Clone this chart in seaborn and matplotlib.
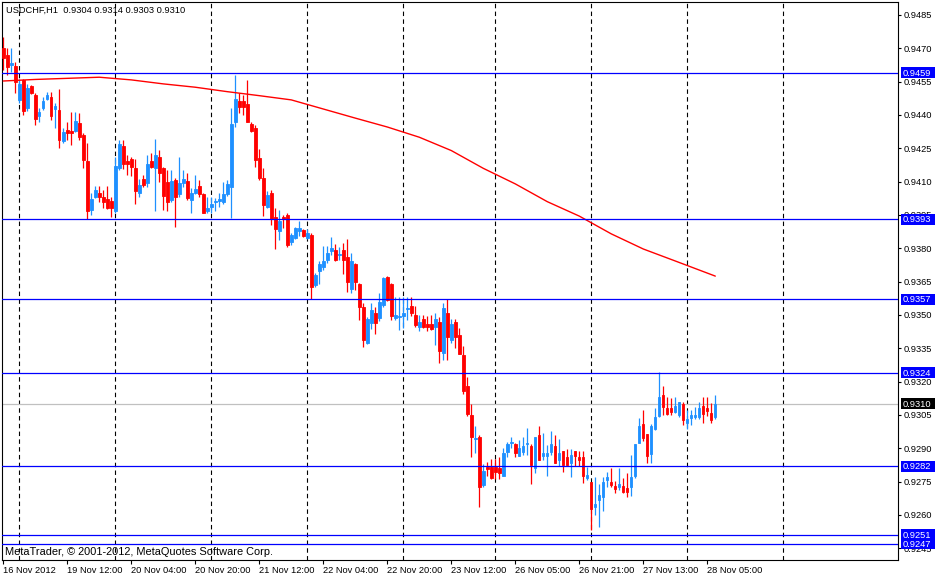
import numpy as np
import pandas as pd
import matplotlib
matplotlib.use("Agg")
import matplotlib.pyplot as plt
from matplotlib.patches import Rectangle
import seaborn as sns

sns.set_theme(style="white")
plt.rcParams["font.family"] = ["Liberation Sans", "DejaVu Sans"]

title_text = "USDCHF,H1  0.9304 0.9314 0.9303 0.9310"
copyright_text = "MetaTrader, \u00a9 2001-2012, MetaQuotes Software Corp."

open_ = [0.94700, 0.94670, 0.94625, 0.94620, 0.94468, 0.94558, 0.94430, 0.94530, 0.94490, 0.94395,
         0.94430, 0.94470, 0.94483, 0.94425, 0.94423, 0.94283, 0.94333, 0.94330, 0.94328, 0.94363,
         0.94310, 0.94193, 0.93973, 0.94030, 0.94050, 0.94030, 0.94020, 0.94013, 0.93970, 0.94160,
         0.94260, 0.94193, 0.94200, 0.94160, 0.94048, 0.94110, 0.94095, 0.94193, 0.94160, 0.94213,
         0.94160, 0.94100, 0.94018, 0.94108, 0.94045, 0.94095, 0.94103, 0.94018, 0.94048, 0.94080,
         0.94043, 0.93968, 0.93988, 0.94010, 0.94013, 0.94010, 0.94045, 0.94078, 0.94370, 0.94465,
         0.94465, 0.94450, 0.94360, 0.94343, 0.94205, 0.94115, 0.93988, 0.94048, 0.93940, 0.93880,
         0.93940, 0.93950, 0.93830, 0.93848, 0.93880, 0.93883, 0.93848, 0.93860, 0.93635, 0.93700,
         0.93718, 0.93748, 0.93788, 0.93793, 0.93770, 0.93793, 0.93763, 0.93617, 0.93730, 0.93640,
         0.93535, 0.93373, 0.93465, 0.93510, 0.93488, 0.93545, 0.93670, 0.93640, 0.93485, 0.93493,
         0.93496, 0.93526, 0.93540, 0.93500, 0.93448, 0.93480, 0.93460, 0.93460, 0.93448, 0.93470,
         0.93328, 0.93508, 0.93388, 0.93470, 0.93410, 0.93320, 0.93180, 0.93050, 0.92942, 0.92953,
         0.92735, 0.92818, 0.92818, 0.92815, 0.92810, 0.92775, 0.92885, 0.92924, 0.92920, 0.92867,
         0.92885, 0.92920, 0.92912, 0.92810, 0.92960, 0.92866, 0.92866, 0.92885, 0.92910, 0.92848,
         0.92890, 0.92863, 0.92836, 0.92890, 0.92860, 0.92860, 0.92768, 0.92750, 0.92638, 0.92668,
         0.92680, 0.92758, 0.92750, 0.92730, 0.92725, 0.92730, 0.92723, 0.92728, 0.92776, 0.92926,
         0.93010, 0.92965, 0.92875, 0.92987, 0.93046, 0.93140, 0.93080, 0.93083, 0.93065, 0.93050,
         0.93100, 0.93013, 0.93038, 0.93040, 0.93040, 0.93090, 0.93080, 0.93060, 0.93040]
high = [0.94753, 0.94700, 0.94700, 0.94640, 0.94560, 0.94560, 0.94540, 0.94535, 0.94498, 0.94430,
        0.94483, 0.94505, 0.94505, 0.94453, 0.94515, 0.94340, 0.94370, 0.94415, 0.94415, 0.94408,
        0.94318, 0.94273, 0.94050, 0.94080, 0.94080, 0.94063, 0.94080, 0.94033, 0.94213, 0.94288,
        0.94288, 0.94220, 0.94213, 0.94200, 0.94110, 0.94130, 0.94220, 0.94228, 0.94290, 0.94243,
        0.94168, 0.94153, 0.94153, 0.94115, 0.94213, 0.94153, 0.94138, 0.94070, 0.94130, 0.94108,
        0.94050, 0.94033, 0.94033, 0.94025, 0.94048, 0.94100, 0.94108, 0.94430, 0.94580, 0.94498,
        0.94490, 0.94558, 0.94370, 0.94355, 0.94245, 0.94160, 0.94060, 0.94063, 0.93980, 0.93973,
        0.93950, 0.93960, 0.93870, 0.93898, 0.93923, 0.93885, 0.93885, 0.93868, 0.93690, 0.93745,
        0.93810, 0.93810, 0.93853, 0.93820, 0.93808, 0.93823, 0.93840, 0.93780, 0.93735, 0.93645,
        0.93555, 0.93490, 0.93555, 0.93538, 0.93600, 0.93673, 0.93675, 0.93645, 0.93580, 0.93583,
        0.93583, 0.93583, 0.93583, 0.93540, 0.93500, 0.93500, 0.93495, 0.93500, 0.93510, 0.93493,
        0.93553, 0.93572, 0.93480, 0.93480, 0.93440, 0.93360, 0.93220, 0.93100, 0.93000, 0.92960,
        0.92830, 0.92840, 0.92852, 0.92852, 0.92863, 0.92900, 0.92927, 0.92953, 0.92925, 0.92938,
        0.92950, 0.92990, 0.92920, 0.92953, 0.93000, 0.92970, 0.92915, 0.92980, 0.92960, 0.92940,
        0.92890, 0.92896, 0.92896, 0.92890, 0.92890, 0.92890, 0.92818, 0.92750, 0.92773, 0.92740,
        0.92773, 0.92795, 0.92810, 0.92755, 0.92810, 0.92765, 0.92788, 0.92870, 0.92920, 0.93035,
        0.93073, 0.92965, 0.93010, 0.93080, 0.93242, 0.93180, 0.93130, 0.93125, 0.93133, 0.93110,
        0.93110, 0.93073, 0.93073, 0.93088, 0.93110, 0.93130, 0.93130, 0.93103, 0.93140]
low = [0.94603, 0.94580, 0.94595, 0.94500, 0.94453, 0.94400, 0.94420, 0.94495, 0.94355, 0.94370,
       0.94423, 0.94468, 0.94378, 0.94340, 0.94250, 0.94273, 0.94288, 0.94265, 0.94325, 0.94288,
       0.94160, 0.93930, 0.93950, 0.94025, 0.94010, 0.93980, 0.93975, 0.93943, 0.93960, 0.94153,
       0.94155, 0.94130, 0.94125, 0.94000, 0.94033, 0.94078, 0.94078, 0.94160, 0.93970, 0.94100,
       0.93973, 0.93970, 0.94010, 0.93898, 0.94033, 0.94078, 0.94018, 0.93958, 0.94043, 0.94033,
       0.93958, 0.93958, 0.93958, 0.93970, 0.93988, 0.94000, 0.94035, 0.93935, 0.94348, 0.94410,
       0.94400, 0.94370, 0.94325, 0.94168, 0.94108, 0.93945, 0.93980, 0.93905, 0.93795, 0.93838,
       0.93890, 0.93805, 0.93815, 0.93840, 0.93855, 0.93853, 0.93840, 0.93570, 0.93628, 0.93640,
       0.93703, 0.93735, 0.93770, 0.93743, 0.93748, 0.93685, 0.93605, 0.93598, 0.93613, 0.93478,
       0.93358, 0.93370, 0.93435, 0.93415, 0.93475, 0.93538, 0.93565, 0.93478, 0.93478, 0.93433,
       0.93440, 0.93478, 0.93495, 0.93448, 0.93430, 0.93440, 0.93430, 0.93433, 0.93365, 0.93285,
       0.93298, 0.93298, 0.93375, 0.93350, 0.93325, 0.93145, 0.93045, 0.92860, 0.92878, 0.92638,
       0.92728, 0.92775, 0.92760, 0.92760, 0.92760, 0.92775, 0.92860, 0.92900, 0.92860, 0.92867,
       0.92870, 0.92870, 0.92738, 0.92790, 0.92848, 0.92848, 0.92775, 0.92870, 0.92836, 0.92820,
       0.92795, 0.92820, 0.92770, 0.92820, 0.92820, 0.92746, 0.92758, 0.92533, 0.92600, 0.92548,
       0.92620, 0.92728, 0.92725, 0.92698, 0.92713, 0.92698, 0.92683, 0.92686, 0.92765, 0.92923,
       0.92935, 0.92836, 0.92833, 0.92983, 0.93043, 0.93050, 0.93050, 0.93050, 0.93060, 0.93043,
       0.93005, 0.92986, 0.93005, 0.93030, 0.93030, 0.93016, 0.93046, 0.93016, 0.93030]
close = [0.94655, 0.94618, 0.94633, 0.94550, 0.94540, 0.94420, 0.94520, 0.94500, 0.94380, 0.94415,
         0.94463, 0.94490, 0.94395, 0.94440, 0.94288, 0.94322, 0.94320, 0.94320, 0.94373, 0.94300,
         0.94198, 0.93970, 0.94020, 0.94063, 0.94033, 0.94010, 0.93980, 0.93980, 0.94170, 0.94270,
         0.94178, 0.94178, 0.94168, 0.94058, 0.94085, 0.94085, 0.94178, 0.94168, 0.94220, 0.94138,
         0.94035, 0.94010, 0.94103, 0.94033, 0.94093, 0.94110, 0.94025, 0.94050, 0.94065, 0.94045,
         0.93958, 0.93980, 0.94000, 0.94013, 0.94022, 0.94043, 0.94090, 0.94360, 0.94470, 0.94435,
         0.94438, 0.94370, 0.94330, 0.94198, 0.94115, 0.93995, 0.94040, 0.93930, 0.93887, 0.93923,
         0.93930, 0.93815, 0.93860, 0.93893, 0.93893, 0.93855, 0.93870, 0.93628, 0.93680, 0.93730,
         0.93745, 0.93780, 0.93803, 0.93748, 0.93773, 0.93748, 0.93650, 0.93743, 0.93650, 0.93538,
         0.93388, 0.93480, 0.93523, 0.93465, 0.93560, 0.93665, 0.93568, 0.93495, 0.93500, 0.93496,
         0.93510, 0.93530, 0.93508, 0.93455, 0.93470, 0.93448, 0.93448, 0.93437, 0.93480, 0.93340,
         0.93530, 0.93400, 0.93460, 0.93400, 0.93325, 0.93160, 0.93055, 0.92950, 0.92945, 0.92728,
         0.92800, 0.92807, 0.92768, 0.92795, 0.92788, 0.92878, 0.92920, 0.92929, 0.92878, 0.92900,
         0.92912, 0.92923, 0.92825, 0.92950, 0.92848, 0.92880, 0.92880, 0.92920, 0.92836, 0.92880,
         0.92825, 0.92825, 0.92870, 0.92866, 0.92848, 0.92776, 0.92780, 0.92627, 0.92650, 0.92690,
         0.92750, 0.92773, 0.92735, 0.92716, 0.92740, 0.92705, 0.92705, 0.92773, 0.92920, 0.93000,
         0.92945, 0.92866, 0.93000, 0.93043, 0.93133, 0.93088, 0.93055, 0.93065, 0.93090, 0.93110,
         0.93028, 0.93030, 0.93050, 0.93050, 0.93080, 0.93055, 0.93068, 0.93028, 0.93100]

ma_bars = [0, 8, 16, 24, 32, 40, 48, 56, 64, 72, 80, 88, 96, 104, 112, 120, 128, 136,
           144, 152, 160, 168, 178]
ma_values = [0.94553, 0.94560, 0.94565, 0.94570, 0.94558, 0.94540, 0.94525, 0.94505,
             0.94487, 0.94468, 0.94427, 0.94386, 0.94346, 0.94300, 0.94240, 0.94160,
             0.94090, 0.94010, 0.93945, 0.93865, 0.93797, 0.93743, 0.93675]

level_lines = [0.9459, 0.9393, 0.9357, 0.9324, 0.9282, 0.9251, 0.9247]
bid_price = 0.9310

ytick_values = [0.9485, 0.9470, 0.9455, 0.9440, 0.9425, 0.9410, 0.9395, 0.9380, 0.9365,
                0.9350, 0.9335, 0.9320, 0.9305, 0.9290, 0.9275, 0.9260, 0.9245]
xtick_bars = [0, 16, 32, 48, 64, 80, 96, 112, 128, 144, 160, 176]
xtick_labels = ["16 Nov 2012", "19 Nov 12:00", "20 Nov 04:00", "20 Nov 20:00",
                "21 Nov 12:00", "22 Nov 04:00", "22 Nov 20:00", "23 Nov 12:00",
                "26 Nov 05:00", "26 Nov 21:00", "27 Nov 13:00", "28 Nov 05:00"]
grid_bars = [4, 28, 52, 76, 100, 123, 147, 171, 195]

df = pd.DataFrame({"open": open_, "high": high, "low": low, "close": close})
df["bar"] = np.arange(len(df))
df["bull"] = df["close"] >= df["open"]
bull_color = "#1E90FF"
bear_color = "#FF0000"
colors = np.where(df["bull"], bull_color, bear_color)

W, H = 936, 577
fig = plt.figure(figsize=(W / 100, H / 100), dpi=100)
fig.patch.set_facecolor("white")
ax = fig.add_axes([2 / W, 17 / H, 896 / W, 558 / H])
ax.set_facecolor("white")

ax.set_xlim(-0.325, 223.675)
ax.set_ylim(0.923975, 0.949085)

for gb in grid_bars:
    ax.axvline(gb, color="black", lw=0.8, ls=(0, (4, 3)), zorder=0.5)

# wicks
ax.vlines(df["bar"], df["low"], df["high"], colors=colors, lw=0.9, zorder=2)
# bodies
body_bottom = np.minimum(df["open"], df["close"])
body_height = np.abs(df["close"] - df["open"])
ax.bar(df["bar"], body_height, bottom=body_bottom, width=0.6, color=colors,
       edgecolor=colors, linewidth=0.6, zorder=3)

# moving average
sns.lineplot(x=ma_bars, y=ma_values, color="#FF0000", lw=1.0, ax=ax, zorder=4)

for lv in level_lines:
    ax.axhline(lv, color="#0000FF", lw=0.9, zorder=5)
ax.axhline(bid_price, color="#C0C0C0", lw=0.9, zorder=1.5)

# axes styling
for s in ax.spines.values():
    s.set_color("black")
    s.set_linewidth(0.8)
ax.yaxis.tick_right()
ax.set_yticks(ytick_values)
ax.set_yticklabels([f"{v:.4f}" for v in ytick_values])
ax.tick_params(axis="y", direction="out", length=2.5, width=0.8, pad=1.8,
               labelsize=6.7, colors="black", right=True, left=False)
ax.set_xticks(xtick_bars)
ax.set_xticklabels(xtick_labels)
for lab in ax.get_xticklabels():
    lab.set_horizontalalignment("left")
ax.tick_params(axis="x", direction="out", length=3, width=0.8, pad=1.5,
               labelsize=6.7, colors="black", bottom=True)
ax.grid(False)
ax.set_xlabel("")
ax.set_ylabel("")
if ax.get_legend():
    ax.get_legend().remove()

# price label boxes on the right scale
def price_box(value, face):
    ypix = ax.transData.transform((0, value))[1]
    rect = Rectangle((901, ypix - 5.5), 34, 11, transform=None, facecolor=face,
                     edgecolor="none", zorder=10)
    fig.patches.append(rect)
    fig.text(903 / W, (ypix - 0.3) / H, f"{value:.4f}", color="white", fontsize=6.7,
             va="center", ha="left", zorder=11)

for lv in level_lines:
    price_box(lv, "#0000FF")
price_box(bid_price, "#000000")

fig.text(6 / W, 1 - 10 / H, title_text, fontsize=6.7, color="black", va="center", ha="left")
fig.text(5 / W, 1 - 552 / H, copyright_text, fontsize=7.9, color="black", va="center", ha="left")

fig.savefig("out.png", dpi=100)
